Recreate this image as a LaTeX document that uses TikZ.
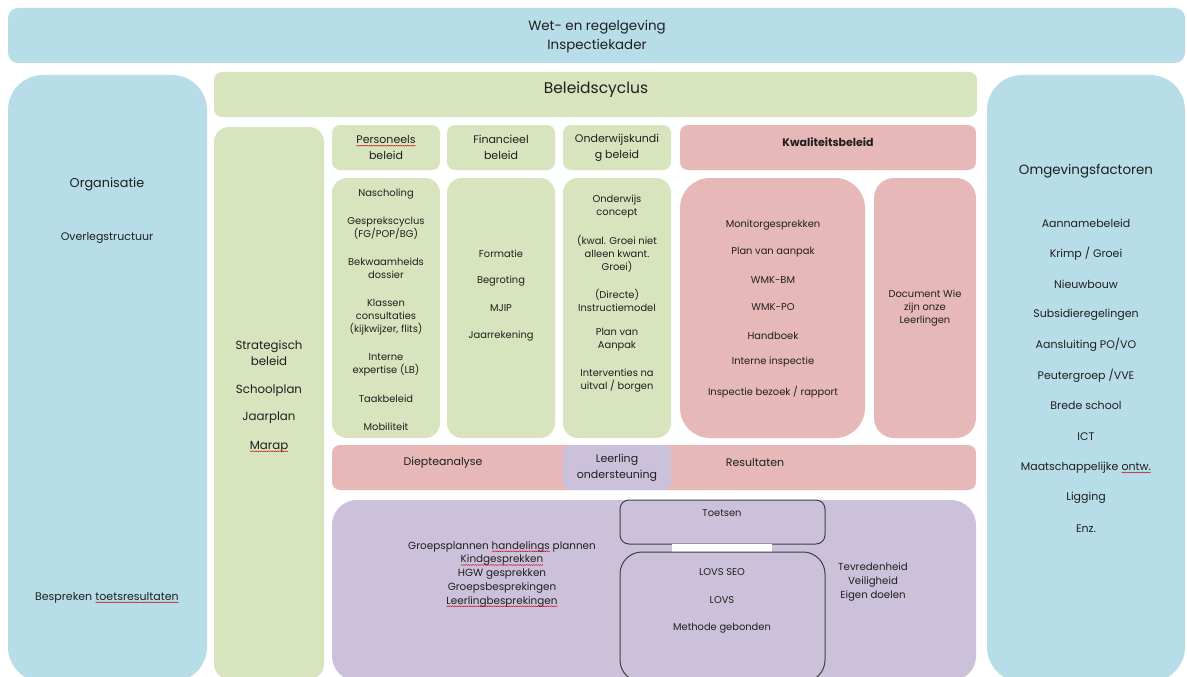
\documentclass[tikz,border=0pt]{standalone}
\usepackage{fontspec}
\setmainfont{Poppins}
\usetikzlibrary{decorations.pathmorphing}
\definecolor{cblue}{HTML}{B7DDE8}
\definecolor{cgreen}{HTML}{D7E4BD}
\definecolor{cpink}{HTML}{E6B9B8}
\definecolor{cpurple}{HTML}{CCC1DA}
\definecolor{ctext}{HTML}{1F1F1F}
\definecolor{cline}{HTML}{404040}
\newcommand\spl[1]{\tikz[baseline=(sw.base),x=1pt,y=1pt]{\node[inner sep=0pt,outer sep=0pt,anchor=base] (sw) at (0,0) {#1};\draw[red!80!black,line width=0.35pt,decorate,decoration={snake,amplitude=0.45pt,segment length=1.8pt}] ([yshift=-2.2pt]sw.base west) -- ([yshift=-2.2pt]sw.base east);}}
\tikzset{
  box/.style={inner sep=0pt, outer sep=0pt, anchor=north west, draw=none},
  bluebox/.style={box, fill=cblue},
  greenbox/.style={box, fill=cgreen},
  pinkbox/.style={box, fill=cpink},
  purplebox/.style={box, fill=cpurple},
  linebox/.style={box, draw=cline, line width=1pt},
  txt/.style={text=ctext, align=center, inner sep=0pt, yshift=-1.5pt, font=\fontsize{9.9}{13}\selectfont},
  mid/.style={text=ctext, align=center, inner sep=0pt, yshift=-1.5pt, font=\fontsize{11}{16}\selectfont},
  big/.style={text=ctext, align=center, inner sep=0pt, yshift=-1.5pt, font=\fontsize{13.4}{19}\selectfont},
}
\begin{document}
\begin{tikzpicture}[x=1pt,y=-1pt]
\useasboundingbox[fill=white] (0,0) rectangle (1187,677);
% boxes
\node[bluebox, minimum width=1177, minimum height=55, rounded corners=10] (top) at (8,8) {};
\node[bluebox, minimum width=199, minimum height=607, rounded corners=35] (org) at (8,75) {};
\node[bluebox, minimum width=198, minimum height=607, rounded corners=35] (omg) at (987,75) {};
\node[greenbox, minimum width=763, minimum height=45, rounded corners=8] (bc) at (214,72) {};
\node[greenbox, minimum width=110, minimum height=552, rounded corners=15] (strat) at (214,127) {};
\node[greenbox, minimum width=108, minimum height=45, rounded corners=8] (ph) at (332,125) {};
\node[greenbox, minimum width=108, minimum height=45, rounded corners=8] (fh) at (447,125) {};
\node[greenbox, minimum width=108, minimum height=45, rounded corners=8] (oh) at (563,125) {};
\node[pinkbox, minimum width=296, minimum height=45, rounded corners=8] (kh) at (680,125) {};
\node[greenbox, minimum width=108, minimum height=260, rounded corners=15] (pc) at (332,178) {};
\node[greenbox, minimum width=108, minimum height=260, rounded corners=15] (fc) at (447,178) {};
\node[greenbox, minimum width=108, minimum height=260, rounded corners=15] (oc) at (563,178) {};
\node[pinkbox, minimum width=185, minimum height=260, rounded corners=30] (kc) at (680,178) {};
\node[pinkbox, minimum width=102, minimum height=260, rounded corners=20] (dc) at (874,178) {};
\node[pinkbox, minimum width=644, minimum height=45, rounded corners=8] (band) at (332,445) {};
\node[purplebox, minimum width=108, minimum height=45, rounded corners=8] (lo) at (563,445) {};
\node[purplebox, minimum width=644, minimum height=181, rounded corners=25] (pb) at (332,500) {};
\node[linebox, minimum width=205, minimum height=44, rounded corners=9] (toe) at (620,500) {};
\node[box, fill=white, minimum width=100, minimum height=8] (ws) at (672,544) {};
\node[linebox, minimum width=205, minimum height=130, rounded corners=22] (lovs) at (620,552) {};
% top
\node[big] (t1) at (597,35.5) {Wet- en regelgeving\\Inspectiekader};
% left
\node[big, font=\fontsize{12.8}{19}\selectfont] (o1) at (107,183) {Organisatie};
\node[mid] (o2) at (107,236) {Overlegstructuur};
\node[mid] (o3) at (107,596) {Bespreken \spl{toetsresultaten}};
% beleidscyclus
\node[text=ctext, inner sep=0pt, yshift=-1.5pt, font=\fontsize{15.5}{18}\selectfont] (bct) at (596,88) {Beleidscyclus};
% strategic
\node[mid, font=\fontsize{11.8}{16}\selectfont] (s1) at (269,352) {Strategisch\\beleid};
\node[mid, font=\fontsize{11.8}{16}\selectfont] (s2) at (269,389) {Schoolplan};
\node[mid, font=\fontsize{11.8}{16}\selectfont] (s3) at (269,416) {Jaarplan};
\node[mid, font=\fontsize{11.8}{16}\selectfont] (s4) at (269,445) {\spl{Marap}};
% headers
\node[mid] (pht) at (386,146) {\spl{Personeels}\\beleid};
\node[mid] (fht) at (501,146) {Financieel\\beleid};
\node[mid] (oht) at (617,146) {Onderwijskundi\\g beleid};
\node[txt, font=\fontsize{11}{13}\selectfont\bfseries] (kht) at (828,141) {Kwaliteitsbeleid};
% personeels
\node[txt] (p1) at (386,193) {Nascholing};
\node[txt] (p2) at (386,226.5) {Gesprekscyclus\\(FG/POP/BG)};
\node[txt] (p3) at (386,266.5) {Bekwaamheids\\dossier};
\node[txt] (p4) at (386,315.5) {Klassen\\consultaties\\(kijkwijzer, flits)};
\node[txt] (p5) at (386,363.5) {Interne\\expertise (LB)};
\node[txt] (p6) at (386,397) {Taakbeleid};
\node[txt] (p7) at (386,425) {Mobiliteit};
% financieel
\node[txt] (f1) at (501,252) {Formatie};
\node[txt] (f2) at (501,280) {Begroting};
\node[txt] (f3) at (501,307) {MJIP};
\node[txt] (f4) at (501,335) {Jaarrekening};
% onderwijs
\node[txt] (w1) at (617,205.5) {Onderwijs\\concept};
\node[txt] (w2) at (617,252) {(kwal. Groei niet\\alleen kwant.\\Groei)};
\node[txt] (w3) at (617,298.5) {(Directe)\\Instructiemodel};
\node[txt] (w4) at (617,338.5) {Plan van\\Aanpak};
\node[txt] (w5) at (617,379.5) {Interventies na\\uitval / borgen};
% kwaliteit
\node[txt] (k1) at (773,224) {Monitorgesprekken};
\node[txt] (k2) at (773,251) {Plan van aanpak};
\node[txt] (k3) at (773,279) {WMK-BM};
\node[txt] (k4) at (773,306) {WMK-PO};
\node[txt] (k5) at (773,334) {Handboek};
\node[txt] (k6) at (773,361) {Interne inspectie};
\node[txt] (k7) at (773,391) {Inspectie bezoek / rapport};
\node[txt] (d1) at (925,307) {Document Wie\\zijn onze\\Leerlingen};
% band
\node[mid] (b1) at (443,461) {Diepteanalyse};
\node[mid] (b2) at (617,466) {Leerling\\ondersteuning};
\node[mid] (b3) at (755,461) {Resultaten};
% purple
\node[txt, font=\fontsize{10.4}{13.75}\selectfont] (g1) at (502,572.5) {Groepsplannen \spl{handelings} plannen\\\spl{Kindgesprekken}\\HGW gesprekken\\Groepsbesprekingen\\\spl{Leerlingbesprekingen}};
\node[txt] (tt) at (722,512) {Toetsen};
\node[txt] (l1) at (722,571) {LOVS SEO};
\node[txt] (l2) at (722,599) {LOVS};
\node[txt] (l3) at (722,627) {Methode gebonden};
\node[txt, font=\fontsize{10.2}{14}\selectfont] (tv) at (873,580) {Tevredenheid\\Veiligheid\\Eigen doelen};
% right
\node[big] (r0) at (1086,170) {Omgevingsfactoren};
\node[mid] (r1) at (1086,222) {Aannamebeleid};
\node[mid] (r2) at (1086,252) {Krimp / Groei};
\node[mid] (r3) at (1086,283) {Nieuwbouw};
\node[mid] (r4) at (1086,313) {Subsidieregelingen};
\node[mid] (r5) at (1086,343) {Aansluiting PO/VO};
\node[mid] (r6) at (1086,374) {Peutergroep /VVE};
\node[mid] (r7) at (1086,404) {Brede school};
\node[mid] (r8) at (1086,435) {ICT};
\node[mid] (r9) at (1086,466) {Maatschappelijke \spl{ontw.}};
\node[mid] (r10) at (1086,496) {Ligging};
\node[mid] (r11) at (1086,527) {Enz.};
\end{tikzpicture}
\end{document}
